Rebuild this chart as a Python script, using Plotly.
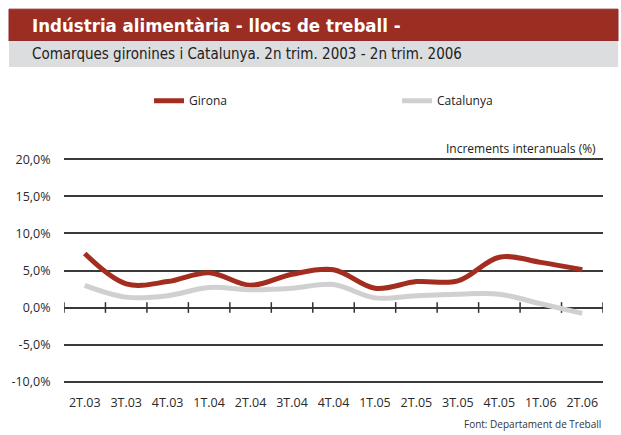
import plotly.graph_objects as go

categories = ["2T.03", "3T.03", "4T.03", "1T.04", "2T.04", "3T.04", "4T.04",
              "1T.05", "2T.05", "3T.05", "4T.05", "1T.06", "2T.06"]
girona = [7.3, 3.2, 3.5, 4.7, 3.0, 4.5, 5.1, 2.6, 3.5, 3.6, 6.8, 6.1, 5.1]
catalunya = [3.0, 1.4, 1.6, 2.7, 2.4, 2.6, 3.1, 1.3, 1.6, 1.8, 1.8, 0.5, -0.8]
y_tickvals = [-10, -5, 0, 5, 10, 15, 20]
y_ticktext = ["-10,0%", "-5,0%", "0,0%", "5,0%", "10,0%", "15,0%", "20,0%"]

W, H = 621, 435
ML, MR, MT, MB = 64, 18, 157.5, 51.5
PW, PH = W - ML - MR, H - MT - MB


def px(x):
    return (x - ML) / PW


def py(y):
    return (H - MB - y) / PH


FONT = "'DejaVu Sans Condensed', 'Open Sans', sans-serif"
AXFONT = "'Open Sans', 'Liberation Sans', sans-serif"

fig = go.Figure()
fig.add_trace(go.Scatter(x=categories, y=girona, name="Girona", mode="lines", legend="legend",
                         line=dict(color="#a32d1f", width=5, shape="spline", smoothing=1)))
fig.add_trace(go.Scatter(x=categories, y=catalunya, name="Catalunya", mode="lines", legend="legend2",
                         line=dict(color="#d0d0d0", width=5, shape="spline", smoothing=1)))

shapes = []
# header bands
shapes.append(dict(type="rect", xref="paper", yref="paper", x0=px(9), x1=px(618), y0=py(40), y1=py(8),
                   fillcolor="#9b2d23", line=dict(color="#8a2a36", width=1), layer="above"))
shapes.append(dict(type="rect", xref="paper", yref="paper", x0=px(9), x1=px(618), y0=py(66), y1=py(40),
                   fillcolor="#dcddde", line=dict(width=0), layer="above"))
# tick marks on zero line at category boundaries
for i in range(len(categories) + 1):
    shapes.append(dict(type="line", xref="x", yref="y", x0=i - 0.5, x1=i - 0.5, y0=-0.72, y1=0.72,
                       line=dict(color="#333333", width=1.5), layer="between"))

legend_common = dict(orientation="h", xanchor="left", yanchor="middle",
                     font=dict(family=AXFONT, size=12, color="#222222"),
                     itemwidth=30, bgcolor="rgba(0,0,0,0)")

fig.update_layout(
    width=W, height=H,
    margin=dict(l=ML, r=MR, t=MT, b=MB),
    paper_bgcolor="white", plot_bgcolor="white",
    shapes=shapes,
    showlegend=True,
    legend=dict(x=px(149), y=py(100), **legend_common),
    legend2=dict(x=px(397), y=py(100), **legend_common),
    xaxis=dict(range=[-0.5, len(categories) - 0.5], showgrid=False, zeroline=False, showline=False,
               ticks="outside", ticklen=8, tickcolor="rgba(0,0,0,0)",
               tickfont=dict(family=AXFONT, size=12.5, color="#2a2a2a")),
    yaxis=dict(range=[-10.2, 20.2], tickvals=y_tickvals, ticktext=y_ticktext,
               showgrid=True, gridcolor="#3a3a3a", gridwidth=1.5,
               zeroline=True, zerolinecolor="#3a3a3a", zerolinewidth=1.5, showline=False,
               ticks="outside", ticklen=10, tickcolor="rgba(0,0,0,0)",
               tickfont=dict(family=AXFONT, size=12.5, color="#2a2a2a")),
    annotations=[
        dict(text="<b>Indústria alimentària - llocs de treball -</b>", xref="paper", yref="paper",
             x=px(30), y=py(24), xanchor="left", yanchor="middle", showarrow=False,
             font=dict(family=FONT, size=18.5, color="white")),
        dict(text="Comarques gironines i Catalunya. 2n trim. 2003 - 2n trim. 2006", xref="paper", yref="paper",
             x=px(30), y=py(53), xanchor="left", yanchor="middle", showarrow=False,
             font=dict(family=FONT, size=15, color="#222222")),
        dict(text="Increments interanuals (%)", xref="paper", yref="paper",
             x=px(598), y=py(148), xanchor="right", yanchor="middle", showarrow=False,
             font=dict(family=AXFONT, size=12, color="#222222")),
        dict(text="Font: Departament de Treball", xref="paper", yref="paper",
             x=px(603), y=py(425), xanchor="right", yanchor="middle", showarrow=False,
             font=dict(family=AXFONT, size=10, color="#333333")),
    ],
)

fig.write_html("out.html", config={"displayModeBar": False},
               post_script="document.body.style.margin='0';")
